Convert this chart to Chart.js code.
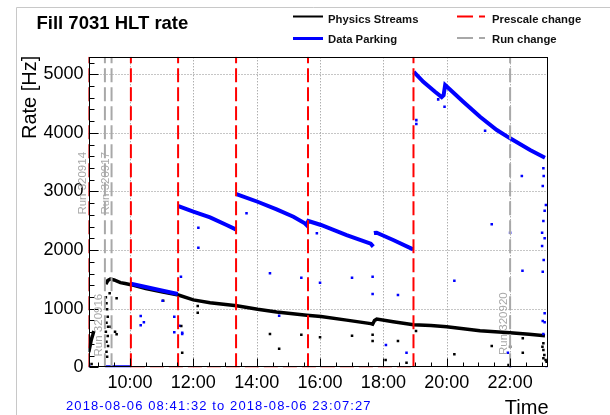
<!DOCTYPE html>
<html>
<head>
<meta charset="utf-8">
<script src="https://cdn.jsdelivr.net/npm/chart.js@4.4.1/dist/chart.umd.min.js"></script>
<style>
  html, body { margin: 0; padding: 0; background: #fff; }
  canvas { display: block; }
</style>
</head>
<body>
<canvas id="rateChart" width="610" height="415"></canvas>
<script>
// time is in hours of 2018-08-06, rate in Hz
const timeMin = 8.6922
const timeMax = 23.18
const rateMax = 5300

const timeTicks = [10, 12, 14, 16, 18, 20, 22]
const rateTicks = [0, 1000, 2000, 3000, 4000, 5000]

const physicsTime = [8.70, 8.74, 8.78, 8.83, 8.86, 8.88,
    9.24, 9.30, 9.38, 9.50, 9.70, 9.85, 10.03, 10.5, 11.0, 11.53, 12.0, 12.53, 13.37, 14.03, 14.63, 15.58,
    16.03, 16.84, 17.60, 17.66, 17.72, 17.79, 18.31, 18.95, 19.5, 20.0, 21.05, 22.0, 22.6, 23.10]
const physicsRate = [260, 360, 470, 560, 620, null,
    1420, 1480, 1505, 1490, 1445, 1430, 1410, 1345, 1290, 1233, 1150, 1100, 1050, 990, 945, 890,
    865, 805, 745, 735, 800, 822, 778, 728, 712, 693, 625, 590, 565, 540]

const physicsDotTime = [8.79, 9.24, 9.26, 9.28, 9.30, 9.26, 9.31, 9.24, 9.30, 9.26, 9.31, 9.26, 9.28, 9.39, 9.36,
    9.53, 9.58, 9.58, 11.05, 11.62, 11.65, 12.14, 12.14, 14.42, 14.71, 15.41, 16.0, 17.01, 17.66, 17.66,
    18.07, 18.46, 18.73, 19.03, 20.24, 21.42, 21.95, 22.0, 22.4, 22.4,
    23.05, 23.02, 23.05, 23.08, 23.05, 23.12, 23.15]
const physicsDotRate = [56, 1194, 1092, 989, 863, 761, 693, 607, 534, 437, 363, 266, 181, 693, 1262,
    607, 1177, 563, 1136, 704, 249, 1046, 932, 568, 317, 556, 512, 539, 556, 449,
    125, 449, 78, 619, 222, 363, 39, 351, 495, 249,
    409, 352, 295, 210, 153, 125, 96]

const parkingTime = [8.69, 8.76, 8.80,
    9.22, 10.02, 10.025,
    10.03, 10.5, 11.0, 11.51, 11.52,
    11.53, 12.0, 12.53, 13.05, 13.34, 13.35,
    13.36, 14.03, 14.63, 15.16, 15.52, 15.57, 15.63, 16.03, 16.84, 17.60, 17.68, 17.69,
    17.70, 17.79, 18.31, 18.94, 18.945,
    18.96, 19.26, 19.63, 19.84, 19.90, 19.95, 20.52, 21.05, 21.58, 22.0, 22.63, 23.10]
const parkingRate = [0, 0, null,
    0, 0, null,
    1425, 1370, 1310, 1250, null,
    2752, 2655, 2559, 2428, 2354, null,
    2957, 2825, 2696, 2570, 2457, 2430, 2496, 2428, 2257, 2110, 2060, null,
    2290, 2297, 2172, 2013, null,
    5043, 4872, 4702, 4610, 4640, 4816, 4531, 4275, 4048, 3907, 3707, 3576]

const parkingDotTime = [10.34, 10.34, 10.44, 11.03, 11.40, 11.40, 11.55, 11.61, 11.65, 11.65,
    12.16, 12.16, 13.68, 14.42, 14.71, 15.41, 15.90, 16.0, 17.01, 17.66, 17.66, 18.08, 18.46, 18.73,
    19.04, 19.04, 19.73, 19.93, 21.21, 20.24, 21.42, 22.0, 22.37, 22.39, 21.93, 22.0,
    23.05, 23.06, 23.03, 23.13, 23.09, 23.05, 23.01, 23.09, 23.01, 23.06, 23.03, 23.09, 23.03, 23.09, 23.05, 23.15]
const parkingDotRate = [875, 717, 768, 1136, 597, 863, 710, 1546, 590, 568,
    2382, 2040, 2627, 1604, 880, 1529, 2286, 1443, 1529, 1546, 1250, 380, 1233, 249,
    4218, 4150, 4572, 4446, 4036, 1477, 2440, 2296, 3264, 1648, 249, 0,
    3395, 3264, 3093, 2769, 2672, 2496, 2296, 2201, 2069, 1830, 1631, 921, 790, 768, 568, 0]

const prescaleTimes = [8.6922, 10.03, 11.52, 13.35, 15.62, 18.95]
const prescaleBase = [10.03, 18.95]

const runTimes = [8.6922, 9.21, 9.42, 22.0]
const runNames = ['Run 320914', 'Run 320916', 'Run 320917', 'Run 320920']
const runLabelRates = [3140, 720, 3140, 745]

const font = 'Liberation Sans, Arial, sans-serif'
const red = '#ff0000'
const gray = '#a8a8a8'
const blue = '#0000ff'

const toPoints = (xs, ys) => xs.map((x, i) => ({ x, y: ys[i] }))
const verticalLines = xs => xs.flatMap(x => [{ x, y: 0 }, { x, y: rateMax }, { x, y: null }])

const drawGrid = chart => {
    const { ctx, chartArea: a, scales: { x, y } } = chart
    ctx.save()
    ctx.strokeStyle = '#8c8c8c'
    ctx.lineWidth = 1
    ctx.setLineDash([1, 2])
    ctx.beginPath()
    timeTicks.forEach(t => {
        const px = Math.round(x.getPixelForValue(t)) + .5
        ctx.moveTo(px, a.bottom)
        ctx.lineTo(px, a.top)
    })
    rateTicks.filter(r => r > 0).forEach(r => {
        const py = Math.round(y.getPixelForValue(r)) + .5
        ctx.moveTo(a.left, py)
        ctx.lineTo(a.right, py)
    })
    ctx.stroke()
    ctx.restore()
}

const drawFrame = chart => {
    const { ctx, chartArea: a, scales: { x, y } } = chart
    const l = Math.round(a.left) + .5, r = Math.round(a.right) - .5
    const t = Math.round(a.top) + .5, b = Math.round(a.bottom) - .5
    ctx.save()
    ctx.strokeStyle = '#000'
    ctx.lineWidth = 1
    ctx.strokeRect(l, t, r - l, b - t)
    ctx.beginPath()
    for (let v = 0; v <= rateMax; v += 200) {
        const py = Math.round(y.getPixelForValue(v)) + .5
        ctx.moveTo(l, py)
        ctx.lineTo(l + (v % 1000 === 0 ? 9 : 5), py)
    }
    for (let h = 9; h <= 23; h += .5) {
        const px = Math.round(x.getPixelForValue(h)) + .5
        ctx.moveTo(px, b)
        ctx.lineTo(px, b - (h % 2 === 0 ? 8 : 4))
    }
    ctx.stroke()

    ctx.fillStyle = gray
    ctx.font = `11.5px ${font}`
    ctx.textAlign = 'center'
    runTimes.forEach((t, i) => {
        ctx.save()
        ctx.translate(x.getPixelForValue(t) - 3, y.getPixelForValue(runLabelRates[i]))
        ctx.rotate(-Math.PI / 2)
        ctx.fillText(runNames[i], 0, 0)
        ctx.restore()
    })
    ctx.restore()
}

const drawLegendLine = (ctx, x0, x1, yy, color, width, dash) => {
    ctx.save()
    ctx.strokeStyle = color
    ctx.lineWidth = width
    ctx.setLineDash(dash)
    ctx.beginPath()
    ctx.moveTo(x0, yy)
    ctx.lineTo(x1, yy)
    ctx.stroke()
    ctx.restore()
}

const drawTexts = chart => {
    const { ctx, chartArea: a } = chart
    ctx.save()
    ctx.fillStyle = '#000'
    ctx.textBaseline = 'alphabetic'

    ctx.font = `bold 18.5px ${font}`
    ctx.textAlign = 'left'
    ctx.fillText('Fill 7031 HLT rate', 36.5, 29)

    drawLegendLine(ctx, 293, 323, 16.5, '#000', 2, [])
    drawLegendLine(ctx, 293, 323, 38.5, blue, 3, [])
    drawLegendLine(ctx, 457, 485, 16.5, red, 2, [16, 6])
    drawLegendLine(ctx, 457, 485, 38, gray, 2, [16, 6])
    ctx.font = `bold 11.3px ${font}`
    ctx.fillStyle = '#111'
    ctx.fillText('Physics Streams', 328, 22.5)
    ctx.fillText('Data Parking', 328, 42.5)
    ctx.fillText('Prescale change', 492, 22.5)
    ctx.fillText('Run change', 492, 42.5)

    ctx.fillStyle = '#000'
    ctx.font = `20px ${font}`
    ctx.save()
    ctx.translate(35.5, a.top - 1)
    ctx.rotate(-Math.PI / 2)
    ctx.textAlign = 'right'
    ctx.fillText('Rate [Hz]', 0, 0)
    ctx.restore()

    ctx.textAlign = 'right'
    ctx.fillText('Time', a.right + 1, 414)

    ctx.textAlign = 'left'
    ctx.fillStyle = blue
    ctx.font = `13px ${font}`
    ctx.letterSpacing = '1.1px'
    ctx.fillText('2018-08-06 08:41:32 to 2018-08-06 23:07:27', 66, 410)
    ctx.restore()
}

const pagePlugin = {
    id: 'page',
    beforeDraw: chart => {
        const { ctx } = chart
        ctx.save()
        ctx.fillStyle = '#fff'
        ctx.fillRect(0, 0, chart.width, chart.height)
        ctx.strokeStyle = '#c8c8c8'
        ctx.lineWidth = 1
        ctx.beginPath()
        ctx.moveTo(16.5, chart.height)
        ctx.lineTo(16.5, 7.5)
        ctx.lineTo(chart.width, 7.5)
        ctx.stroke()
        ctx.restore()
    },
    beforeDatasetsDraw: drawGrid,
    afterDatasetsDraw: drawFrame,
    afterDraw: drawTexts
}

const renderRateChart = () => {

    const dotStyle = color => ({
        showLine: false,
        pointStyle: 'rect',
        pointRadius: 1.8,
        borderWidth: 0,
        backgroundColor: color,
        borderColor: color
    })

    const dashedLine = (color, order) => ({
        showLine: true,
        borderColor: color,
        borderWidth: 2,
        borderDash: [14, 5],
        pointRadius: 0,
        order
    })

    const data = {
        datasets: [
            { label: 'Prescale change', data: verticalLines(prescaleTimes), ...dashedLine(red, 0) },
            { label: 'Prescale base', data: prescaleBase.map(t => ({ x: t, y: 0 })), ...dashedLine(red, 1) },
            { label: 'Run change', data: verticalLines(runTimes), ...dashedLine(gray, 2) },
            {
                label: 'Data Parking',
                data: toPoints(parkingTime, parkingRate),
                showLine: true,
                spanGaps: false,
                borderColor: blue,
                borderWidth: 4,
                pointRadius: 0,
                order: 3
            },
            { label: 'Data Parking dots', data: toPoints(parkingDotTime, parkingDotRate), ...dotStyle(blue), order: 4 },
            {
                label: 'Physics Streams',
                data: toPoints(physicsTime, physicsRate),
                showLine: true,
                spanGaps: false,
                borderColor: '#000',
                borderWidth: 3.5,
                pointRadius: 0,
                order: 5
            },
            { label: 'Physics Streams dots', data: toPoints(physicsDotTime, physicsDotRate), ...dotStyle('#000'), order: 6 }
        ]
    }

    const tickFont = { family: font, size: 18 }

    const options = {
        responsive: false,
        animation: false,
        devicePixelRatio: 1,
        events: [],
        layout: { padding: { left: 0, top: 56.7, right: 62.5, bottom: 0 } },
        plugins: {
            legend: { display: false },
            tooltip: { enabled: false }
        },
        scales: {
            x: {
                type: 'linear',
                min: timeMin,
                max: timeMax,
                afterFit: scale => { scale.height = 47.7 },
                afterBuildTicks: scale => { scale.ticks = timeTicks.map(value => ({ value })) },
                grid: { display: false, drawTicks: false },
                border: { display: false },
                ticks: {
                    autoSkip: false,
                    maxRotation: 0,
                    padding: 5,
                    color: '#000',
                    font: tickFont,
                    callback: v => String(v).padStart(2, '0') + ':00'
                }
            },
            y: {
                min: 0,
                max: rateMax,
                afterFit: scale => { scale.width = 88.5 },
                afterBuildTicks: scale => { scale.ticks = rateTicks.map(value => ({ value })) },
                grid: { display: false, drawTicks: false },
                border: { display: false },
                ticks: {
                    padding: 5,
                    color: '#000',
                    font: tickFont,
                    callback: v => String(v)
                }
            }
        }
    }

    new Chart('rateChart', { type: 'scatter', data, options, plugins: [pagePlugin] })
}

renderRateChart()
</script>
</body>
</html>
